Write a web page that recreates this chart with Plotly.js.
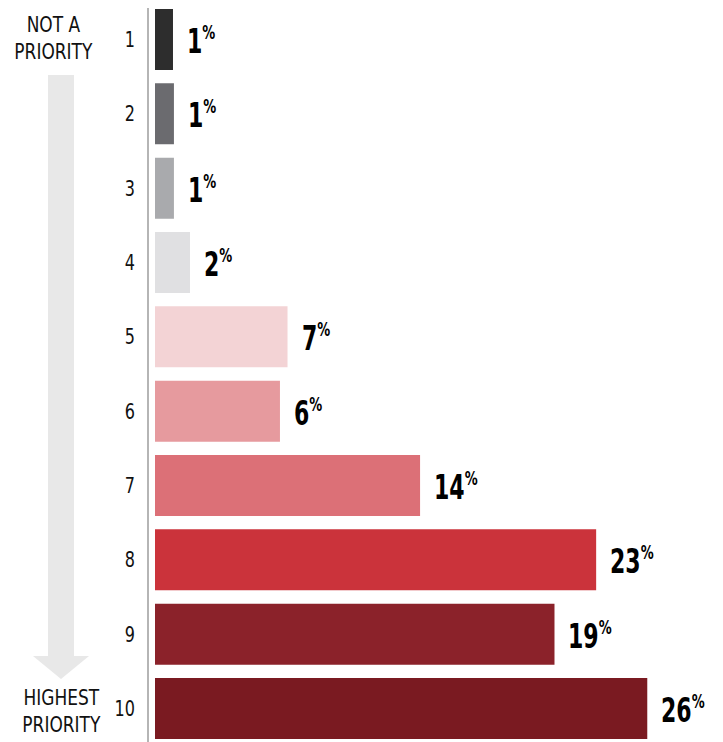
<!DOCTYPE html>
<html>
<head>
<meta charset="utf-8">
<script src="https://cdn.plot.ly/plotly-3.0.1.min.js"></script>
<style>html,body{margin:0;padding:0;background:#fff;}#chart{width:723px;height:742px;}</style>
</head>
<body>
<div id="chart"></div>
<script>
// Data
const categories = ["1","2","3","4","5","6","7","8","9","10"];
const barValues = [0.95, 1.0, 1.0, 1.85, 7.0, 6.6, 14.0, 23.3, 21.1, 26.0];
const labelValues = ["1","1","1","2","7","6","14","23","19","26"];
const barColors = ["#2d2d2d","#6b6b6f","#a9aaad","#e0e0e2","#f3d3d5","#e69a9e","#dc7077","#cb333b","#8b222a","#7a1a21"];
const topText = "NOT A<br>PRIORITY";
const bottomText = "HIGHEST<br>PRIORITY";

const W = 723, H = 742, L = 155;
const FONT = "'DejaVu Sans Condensed', 'Liberation Sans Narrow', 'Liberation Sans', sans-serif";
const px = x => (x - L) / (W - L);
const py = y => 1 - y / H;

const yIdx = categories.map((c, i) => i);

const trace = {
  type: "bar",
  orientation: "h",
  x: barValues,
  y: yIdx,
  marker: {color: barColors, line: {width: 0}},
  hoverinfo: "skip"
};

// horizontal squeeze per annotation (to imitate the condensed face)
const squeeze = [];
const annotations = labelValues.map((v, i) => {
  squeeze.push({s: 0.72, anchor: "left"});
  return {
    x: barValues[i], y: i, xref: "x", yref: "y",
    xanchor: "left", yanchor: "middle", xshift: 12, yshift: -1,
    showarrow: false,
    text: "<b>" + v + "</b><sup><b><span style='font-size:20px'>%</span></b></sup>",
    font: {family: FONT, size: 34, color: "#000"}
  };
});

annotations.push({
  x: px(53), y: py(39), xref: "paper", yref: "paper",
  xanchor: "center", yanchor: "middle", showarrow: false,
  text: topText, align: "center",
  font: {family: FONT, size: 21, color: "#111"}
});
squeeze.push({s: 0.9, anchor: "center"});
annotations.push({
  x: px(61), y: py(711), xref: "paper", yref: "paper",
  xanchor: "center", yanchor: "middle", showarrow: false,
  text: bottomText, align: "center",
  font: {family: FONT, size: 21, color: "#111"}
});
squeeze.push({s: 0.9, anchor: "center"});

const arrowPath = "M " + px(48) + " " + py(75) +
  " L " + px(74) + " " + py(75) +
  " L " + px(74) + " " + py(656) +
  " L " + px(89) + " " + py(656) +
  " L " + px(61) + " " + py(679) +
  " L " + px(33) + " " + py(656) +
  " L " + px(48) + " " + py(656) + " Z";

const shapes = [
  {type: "path", xref: "paper", yref: "paper", path: arrowPath,
   fillcolor: "#e8e8e8", line: {width: 0}, layer: "below"},
  {type: "line", xref: "paper", yref: "paper",
   x0: px(148), x1: px(148), y0: py(8), y1: py(742),
   line: {color: "#b5b5b5", width: 2}}
];

const pitch = 74.33;
const layout = {
  width: W, height: H,
  margin: {l: L, r: 0, t: 0, b: 0, pad: 0},
  paper_bgcolor: "#fff", plot_bgcolor: "#fff",
  showlegend: false,
  bargap: 0.18,
  xaxis: {range: [0, 30], visible: false, fixedrange: true},
  yaxis: {
    range: [9 + 33.5 / pitch, -39.5 / pitch],
    tickvals: yIdx, ticktext: categories,
    showgrid: false, zeroline: false, showline: false,
    ticks: "", ticklabelstandoff: 19,
    tickfont: {family: FONT, size: 21, color: "#111"},
    fixedrange: true
  },
  annotations: annotations,
  shapes: shapes
};

function squeezeText(el, s, anchor) {
  const bb = el.getBBox();
  let ax = bb.x;
  if (anchor === "right") ax = bb.x + bb.width;
  else if (anchor === "center") ax = bb.x + bb.width / 2;
  const prev = el.getAttribute("transform") || "";
  el.setAttribute("transform", prev + " translate(" + ax + ",0) scale(" + s + ",1) translate(" + (-ax) + ",0)");
}

Plotly.newPlot("chart", [trace], layout, {displayModeBar: false, staticPlot: true}).then(gd => {
  gd.querySelectorAll("g.annotation").forEach(g => {
    const idx = +g.getAttribute("data-index");
    const t = g.querySelector("text.annotation-text");
    if (t && squeeze[idx]) squeezeText(t, squeeze[idx].s, squeeze[idx].anchor);
  });
  gd.querySelectorAll("g.ytick text").forEach(t => squeezeText(t, 0.85, "right"));
});
</script>
</body>
</html>
